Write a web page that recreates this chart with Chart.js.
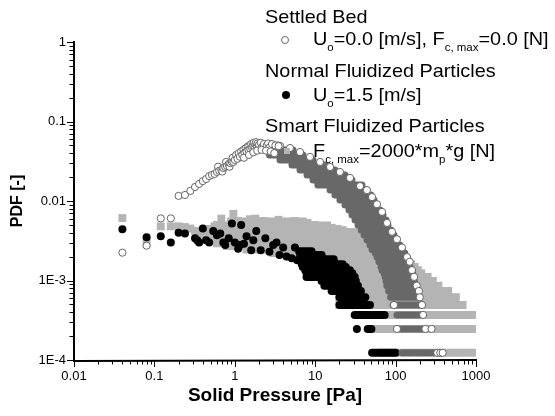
<!DOCTYPE html>
<html lang="en">
<head>
<meta charset="UTF-8">
<title>PDF of solid pressure</title>
<script src="https://cdn.jsdelivr.net/npm/chart.js"></script>
<style>
  body { margin: 0; background: #fff; }
  #box { position: relative; width: 555px; height: 416px; font-family: 'Liberation Sans', Arial, sans-serif; }
  #chart { position: absolute; left: 0; top: 0; }
  .key { position: absolute; font-size: 19px; line-height: 19px; white-space: nowrap; color: #000; transform: scaleX(1.045); transform-origin: 0 0; }
  .key sub { font-size: 11px; line-height: 0; vertical-align: -6px; }
  .mark { position: absolute; box-sizing: border-box; }
</style>
</head>
<body>
<div id="box">
  <canvas id="chart" width="555" height="416"></canvas>
  <div class="key" style="left:265px; top:7px">Settled Bed</div>
  <span class="mark" style="left:281px; top:36px; width:8px; height:8px; border:1px solid #666; border-radius:50%; background:#fff"></span>
  <div class="key" style="left:313px; top:29px">U<sub>o</sub>=0.0 [m/s], F<sub>c, max</sub>=0.0 [N]</div>
  <div class="key" style="left:265px; top:61px">Normal Fluidized Particles</div>
  <span class="mark" style="left:282px; top:91px; width:8px; height:8px; border-radius:50%; background:#000"></span>
  <div class="key" style="left:313px; top:85px">U<sub>o</sub>=1.5 [m/s]</div>
  <div class="key" style="left:265px; top:116px">Smart Fluidized Particles</div>
  <span class="mark" style="left:284px; top:148px; width:6px; height:6px; background:#b4b4b4"></span>
  <div class="key" style="left:313px; top:141px">F<sub>c, max</sub>=2000*m<sub>p</sub>*g [N]</div>
</div>
<script>
// axis ticks
const xMajor = [0.01, 0.1, 1, 10, 100, 1000];
const xLabels = ['0.01', '0.1', '1', '10', '100', '1000'];
const yMajor = [1e-4, 1e-3, 0.01, 0.1, 1];
const yLabels = ['1E-4', '1E-3', '0.01', '0.1', '1'];

// settled bed: single (open) circles
const settledX = [0.04,0.08,0.12,0.16,0.2,0.24,0.28,0.32,0.36,0.4,0.44,0.48,0.52,0.56,0.6,
  0.62,0.64,0.68,0.7,0.72,0.76,0.78,0.8,0.84,0.86,0.88,0.92,0.94,0.96,1.0,
  1.04,1.08,1.12,1.16,1.2,1.24,1.28,1.32,1.36,1.4,1.44,1.48,1.52,1.56,1.6,1.64,1.68,1.72,1.76,1.8,1.84,1.88,1.92,1.96,2.0,
  2.1,2.2,2.3,2.4,2.5,2.6,2.7,3.65,4.86,
  1.3,1.5,1.7,1.9,2.15,2.45,2.8,3.1,2.9,3.2,3.5,
  6.47,8.62,11.5,15.3,20.3,27.1,36.1,44,50.9,58.7,67.8,78.2,90.2,104,120,
  139,150,160,170,183,195,200,213,95.5,220,104,235,280,330,360,385];
const settledY = [2.24e-3,2.74e-3,6.05e-3,6.05e-3,0.0116,0.0119,0.0134,0.015,0.0164,0.0178,0.0189,0.0206,0.0213,0.0219,0.0232,
  0.027,0.024,0.0245,0.0235,0.026,0.0268,0.031,0.0276,0.0292,0.027,0.03,0.031,0.035,0.031,0.0328,
  0.038,0.034,0.04,0.036,0.042,0.038,0.044,0.04,0.046,0.042,0.048,0.044,0.05,0.045,0.052,0.047,0.05,0.054,0.048,0.052,0.055,0.049,0.053,0.046,0.051,
  0.054,0.048,0.052,0.045,0.05,0.053,0.047,0.0494,0.0464,
  0.035,0.038,0.041,0.043,0.044,0.043,0.042,0.04,0.052,0.05,0.049,
  0.0413,0.0359,0.031,0.0268,0.0232,0.0195,0.0154,0.0137,0.0112,0.0091,0.0073,0.0053,0.0041,0.0033,0.0026,
  1.97e-3,1.72e-3,1.35e-3,1.11e-3,8.61e-4,7.38e-4,6.15e-4,4.92e-4,4.92e-4,3.69e-4,2.46e-4,2.46e-4,2.46e-4,1.23e-4,1.23e-4,1.23e-4];
// settled bed: dense runs of points (same PDF level, from / to pressure)
const settledBandY = [0.0506,0.0438,0.0379,0.0328,0.0284,0.0245,0.0212,0.0184,0.0159,0.01375,0.0119,0.0103,0.0089,0.0077,
  0.00667,0.00577,0.00499,0.00432,0.00374,0.00323,0.0028,
  2.46e-3,2.21e-3,1.97e-3,1.72e-3,1.48e-3,1.35e-3,1.23e-3,1.11e-3,9.84e-4,8.61e-4,7.38e-4,6.15e-4,4.92e-4,3.69e-4,2.46e-4,1.23e-4];
const settledBandFrom = [2.6,2.5,2.7,3.65,5.14,6.47,7.91,9.39,10.8,15.3,17.6,20.3,23.5,26.3,28.7,31.3,34.1,37.1,40.5,44.1,48,
  50.9,55.7,58.7,62,65.9,67.8,71.7,74,76,77.7,82,86.5,93,104,104,120];
const settledBandTo = [3.45,5.3,7.05,9.39,13.2,17.6,23.5,28.7,38.2,44.1,49.4,53.9,58.7,64,69.7,76,80.4,87.7,95.5,104,113,
  121,130,139,145,152,158,163,167,171,176,180,192,212,220,230,300];

// normal fluidized particles
const normalX = [0.04,0.08,0.12,0.16,0.2,0.24,0.32,0.34,0.36,0.4,0.44,0.48,0.54,0.6,0.66,0.72,0.76,0.84,0.92,1.0,
  1.1,1.16,1.2,1.3,1.4,1.6,1.7,1.85,2.1,2.4,2.7,3.0,3.3,3.6,4.0,4.4,5.1,5.6,6.0,33];
const normalY = [4.4e-3,3.5e-3,3.6e-3,3.0e-3,4.0e-3,3.9e-3,3.4e-3,3.2e-3,3.0e-3,4.5e-3,3.2e-3,3.0e-3,4.2e-3,3.7e-3,3.9e-3,3.0e-3,2.8e-3,3.4e-3,5.2e-3,3.0e-3,
  2.5e-3,2.8e-3,5.0e-3,2.9e-3,3.6e-3,2.4e-3,3.2e-3,4.2e-3,2.4e-3,3.4e-3,2.3e-3,2.8e-3,3.0e-3,2.1e-3,2.6e-3,2.0e-3,1.9e-3,2.6e-3,1.8e-3,2.46e-4];
const normalBandY = [2.34e-3,2.09e-3,1.85e-3,1.6e-3,1.48e-3,1.35e-3,1.23e-3,1.11e-3,9.84e-4,8.61e-4,7.38e-4,6.15e-4,4.92e-4,3.69e-4,2.46e-4,1.23e-4];
const normalBandFrom = [6.3,6.5,6.6,6.8,7,7.5,7.8,7.8,12,13,16,20,20,31,45,51];
const normalBandTo = [9,12,17,22,24,27,29,31,32,34,37,42,48,73,50,100];

// smart fluidized particles
const smartX = [0.04,0.08,0.12,0.16,0.2,0.24,0.28,0.32,0.36,0.4,0.44,0.48,0.52,0.56,0.6,0.64,0.68,0.72,0.76,0.8,0.84,0.88,0.92,0.96,1.0,
  1.1,1.3,1.55,1.8,2.3,2.7,3.5,4.3,5.6,6.8,8,9.8,12.5,16,22];
const smartY = [6.1e-3,3.0e-3,4.8e-3,4.8e-3,4.8e-3,4.7e-3,4.5e-3,4.2e-3,3.9e-3,3.6e-3,3.9e-3,4.4e-3,3.6e-3,4.8e-3,5.0e-3,3.7e-3,6.0e-3,3.3e-3,4.4e-3,3.2e-3,4.1e-3,4.9e-3,3.0e-3,6.9e-3,4.4e-3,
  5.6e-3,5.2e-3,5.9e-3,6.0e-3,5.6e-3,5.3e-3,5.8e-3,5.4e-3,5.6e-3,5.1e-3,5.3e-3,5.0e-3,4.7e-3,4.6e-3,4.3e-3];
const smartBandY = [5.54e-3,4.92e-3,4.43e-3,4.06e-3,3.69e-3,3.32e-3,2.95e-3,2.71e-3,2.46e-3,2.21e-3,1.97e-3,1.85e-3,1.72e-3,1.6e-3,
  1.48e-3,1.35e-3,1.23e-3,1.11e-3,9.84e-4,8.61e-4,7.38e-4,6.15e-4,4.92e-4,3.69e-4,2.46e-4,1.23e-4];
const smartBandFrom = [0.9,0.62,0.5,0.46,0.44,0.5,0.6,0.8,1.4,3,5,6,7,8,9,10,11,12,14,16,18,20,20,40,55,70];
const smartBandTo = [7,14,19,30,40,45,52,60,75,95,117,129,142,156,172,189,208,250,290,340,450,560,680,1000,1000,1000];

const font = "'Liberation Sans', Arial, sans-serif";

function points(xs, ys) {
  return xs.map((x, i) => ({ x: x, y: ys[i] }));
}
// each run becomes a segment, broken from the next one by a gap
function runs(ys, from, to) {
  const d = [];
  ys.forEach((y, i) => {
    d.push({ x: from[i], y: y }, { x: to[i], y: y }, { x: to[i], y: null });
  });
  return d;
}
function tickList(major) {
  const list = [];
  major.forEach((v, i) => {
    list.push({ value: v });
    if (i < major.length - 1) {
      for (let m = 2; m <= 9; m++) list.push({ value: v * m });
    }
  });
  return list;
}
function isMajor(major, v) {
  return major.findIndex(m => Math.abs(m - v) / m < 1e-6);
}

// axis lines and tick marks (long at decades, short in between)
const axisPlugin = {
  id: 'axisPlugin',
  afterDraw(chart) {
    const ctx = chart.ctx, a = chart.chartArea;
    const xs = chart.scales.x, ys = chart.scales.y;
    ctx.save();
    ctx.strokeStyle = '#000';
    ctx.lineWidth = 2;
    ctx.beginPath();
    ctx.moveTo(a.left, a.top - 1);
    ctx.lineTo(a.left, a.bottom + 1);
    ctx.lineTo(a.right + 1, a.bottom);
    ctx.stroke();
    ctx.lineWidth = 1;
    xs.ticks.forEach(t => {
      const p = Math.round(xs.getPixelForValue(t.value)) + 0.5;
      const len = isMajor(xMajor, t.value) >= 0 ? 6 : 3.5;
      ctx.beginPath();
      ctx.moveTo(p, a.bottom);
      ctx.lineTo(p, a.bottom + 1 + len);
      ctx.stroke();
    });
    ys.ticks.forEach(t => {
      const p = Math.round(ys.getPixelForValue(t.value)) + 0.5;
      const len = isMajor(yMajor, t.value) >= 0 ? 6 : 3.5;
      ctx.beginPath();
      ctx.moveTo(a.left, p);
      ctx.lineTo(a.left - 1 - len, p);
      ctx.stroke();
    });
    ctx.restore();
  }
};

new Chart(document.getElementById('chart'), {
  type: 'scatter',
  data: {
    datasets: [
      {
        label: 'Settled Bed',
        data: points(settledX, settledY),
        pointStyle: 'circle', pointRadius: 3.6, borderWidth: 1,
        borderColor: '#666666', backgroundColor: '#ffffff', order: 0
      },
      {
        type: 'line', label: 'Settled Bed (dense)',
        data: runs(settledBandY, settledBandFrom, settledBandTo),
        borderColor: '#686868', borderWidth: 7, borderCapStyle: 'round',
        pointRadius: 0, spanGaps: false, tension: 0, clip: 0, order: 1
      },
      {
        label: 'Normal Fluidized Particles',
        data: points(normalX, normalY),
        pointStyle: 'circle', pointRadius: 4, borderWidth: 0,
        backgroundColor: '#000000', order: 2
      },
      {
        type: 'line', label: 'Normal (dense)',
        data: runs(normalBandY, normalBandFrom, normalBandTo),
        borderColor: '#000000', borderWidth: 8, borderCapStyle: 'round',
        pointRadius: 0, spanGaps: false, tension: 0, clip: 0, order: 3
      },
      {
        label: 'Smart Fluidized Particles',
        data: points(smartX, smartY),
        pointStyle: 'rect', pointRadius: 5.6, borderWidth: 0,
        backgroundColor: '#b4b4b4', order: 4
      },
      {
        type: 'line', label: 'Smart (dense)',
        data: runs(smartBandY, smartBandFrom, smartBandTo),
        borderColor: '#b4b4b4', borderWidth: 8, borderCapStyle: 'square',
        pointRadius: 0, spanGaps: false, tension: 0, clip: 0, order: 5
      }
    ]
  },
  options: {
    responsive: false,
    animation: false,
    events: [],
    layout: { padding: { top: 42, right: 79, bottom: 0, left: 0 } },
    plugins: { legend: { display: false }, tooltip: { enabled: false } },
    scales: {
      x: {
        type: 'logarithmic', min: 0.01, max: 1000,
        afterBuildTicks: s => { s.ticks = tickList(xMajor); },
        afterFit: s => { s.height = 56; },
        grid: { display: false, drawTicks: false },
        border: { display: false },
        ticks: {
          autoSkip: false, maxRotation: 0, padding: 9, color: '#000',
          font: { family: font, size: 13 },
          callback: v => { const i = isMajor(xMajor, v); return i >= 0 ? xLabels[i] : ''; }
        },
        title: {
          display: true, text: 'Solid Pressure [Pa]', color: '#000',
          font: { family: font, size: 19, weight: 'bold' },
          padding: { top: 0, bottom: 9 }
        }
      },
      y: {
        type: 'logarithmic', min: 1e-4, max: 1,
        afterBuildTicks: s => { s.ticks = tickList(yMajor); },
        afterFit: s => { s.width = 74; },
        grid: { display: false, drawTicks: false },
        border: { display: false },
        ticks: {
          autoSkip: false, padding: 8, color: '#000',
          font: { family: font, size: 13 },
          callback: v => { const i = isMajor(yMajor, v); return i >= 0 ? yLabels[i] : ''; }
        },
        title: {
          display: true, text: 'PDF [-]', color: '#000',
          font: { family: font, size: 16, weight: 'bold' },
          padding: { top: 8, bottom: 0 }
        }
      }
    }
  },
  plugins: [axisPlugin]
});
</script>
</body>
</html>
